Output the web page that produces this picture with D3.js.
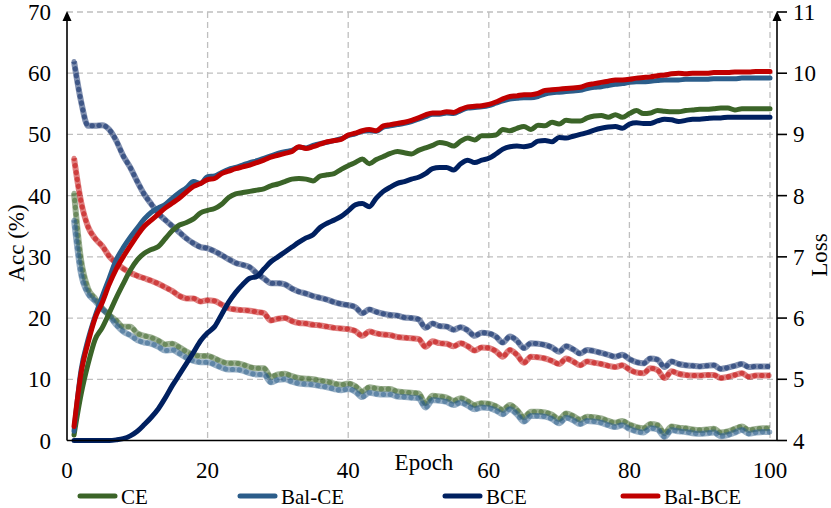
<!DOCTYPE html>
<html>
<head>
<meta charset="utf-8">
<script src="https://cdn.jsdelivr.net/npm/d3@7"></script>
<style>
    body { margin: 0; background: #fff; }
    svg text { font-family: "Times New Roman", Times, "Liberation Serif", Tinos, "Noto Serif", "DejaVu Serif", FreeSerif, serif; fill: #000; }
</style>
</head>
<body>
<script>
// Epochs and tick labels
const epochs = d3.range(1, 101);
const xTicks = [0, 20, 40, 60, 80, 100];
const accTicks = [0, 10, 20, 30, 40, 50, 60, 70];
const lossTicks = [4, 5, 6, 7, 8, 9, 10, 11];
const seriesNames = ["CE", "Bal-CE", "BCE", "Bal-BCE"];

// Accuracy (%), left axis
const accCE = [
    0.9, 7.5, 12.5, 16.5, 18.4, 20.8, 23.3, 25.6, 27.8, 29.5,
    30.6, 31.2, 31.7, 33.0, 34.3, 35.2, 35.6, 36.2, 37.2, 37.6,
    37.9, 38.6, 39.7, 40.3, 40.5, 40.7, 40.9, 41.1, 41.6, 41.9,
    42.3, 42.7, 42.8, 42.7, 42.4, 43.2, 43.4, 43.6, 44.3, 44.9,
    45.4, 46.0, 45.2, 45.9, 46.4, 46.9, 47.2, 47.0, 46.8, 47.4,
    47.8, 48.2, 48.7, 48.5, 48.1, 48.9, 49.4, 49.1, 49.8, 49.8,
    49.9, 50.8, 50.6, 51.0, 51.3, 50.8, 51.5, 51.4, 52.0, 51.7,
    52.3, 52.2, 52.2, 52.7, 53.0, 53.1, 52.8, 53.2, 52.8, 53.4,
    53.9, 53.4, 53.5, 53.9, 53.8, 53.7, 53.7, 53.9, 54.0, 54.1,
    54.1, 54.2, 54.3, 54.3, 54.0, 54.2, 54.2, 54.2, 54.2, 54.2
];
const accBalCE = [
    1.5, 11.5, 16.5, 20.3, 23.5, 26.5, 29.5, 31.5, 33.2, 34.7,
    36.2, 37.3, 38.0, 38.6, 39.6, 40.5, 41.3, 42.3, 42.0, 43.1,
    43.2, 43.8, 44.3, 44.6, 45.0, 45.4, 45.7, 46.1, 46.5, 46.9,
    47.2, 47.4, 47.9, 47.8, 48.2, 48.5, 48.7, 49.0, 49.3, 49.8,
    50.1, 50.5, 50.6, 50.5, 51.2, 51.4, 51.6, 51.8, 52.1, 52.5,
    52.9, 53.3, 53.3, 53.5, 53.4, 53.9, 54.3, 54.4, 54.5, 54.7,
    55.1, 55.5, 55.8, 55.9, 56.0, 56.0, 56.2, 56.6, 56.8, 56.9,
    57.0, 57.1, 57.2, 57.5, 57.7, 57.8, 58.0, 58.2, 58.3, 58.5,
    58.6, 58.6, 58.7, 58.8, 58.9, 58.9, 58.9, 59.0, 59.0, 59.0,
    59.0, 59.1, 59.1, 59.1, 59.1, 59.2, 59.2, 59.2, 59.2, 59.2
];
const accBCE = [
    0, 0, 0, 0, 0, 0, 0.1, 0.3, 0.75, 1.5,
    2.6, 3.8, 5.2, 7.0, 9.0, 10.8, 12.6, 14.4, 16.3, 17.6,
    18.6, 20.6, 22.6, 24.2, 25.5, 26.5, 26.8, 28.0, 29.2, 30.0,
    30.8, 31.6, 32.4, 33.1, 33.6, 34.8, 35.5, 36.0, 36.6, 37.5,
    38.5, 38.7, 38.2, 39.6, 40.7, 41.4, 42.0, 42.3, 42.7, 43.0,
    43.6, 44.4, 44.6, 44.6, 44.2, 45.2, 45.8, 45.4, 45.8, 46.1,
    46.8, 47.6, 48.0, 48.1, 48.0, 48.2, 48.9, 49.0, 48.8, 49.5,
    49.4, 49.7, 50.0, 50.3, 50.7, 51.0, 51.2, 51.3, 51.0, 51.7,
    51.9, 51.8, 51.8, 52.2, 52.5, 52.4, 52.1, 52.3, 52.5, 52.5,
    52.6, 52.7, 52.7, 52.8, 52.8, 52.8, 52.8, 52.8, 52.8, 52.8
];
const accBalBCE = [
    2.3, 11.0, 16.0, 20.0, 22.5, 25.5, 28.0, 30.0, 31.8, 33.5,
    35.0, 36.0, 37.0, 38.0, 38.8, 39.6, 40.6, 41.5, 42.0, 42.6,
    42.8, 43.6, 44.0, 44.4, 44.7, 45.0, 45.4, 45.8, 46.3, 46.6,
    46.9, 47.2, 48.0, 47.7, 48.0, 48.4, 48.8, 49.0, 49.2, 49.9,
    50.2, 50.6, 50.8, 50.6, 51.4, 51.6, 51.8, 52.0, 52.3, 52.7,
    53.2, 53.5, 53.5, 53.7, 53.6, 54.1, 54.5, 54.6, 54.7, 54.9,
    55.3, 55.8, 56.2, 56.3, 56.5, 56.5, 56.7, 57.2, 57.3, 57.4,
    57.5, 57.6, 57.7, 58.1, 58.3, 58.5, 58.7, 58.9, 58.9, 59.0,
    59.2, 59.3, 59.4, 59.6, 59.7, 59.9, 60.0, 59.9, 60.0, 60.0,
    60.0, 60.1, 60.1, 60.1, 60.2, 60.2, 60.2, 60.3, 60.3, 60.3
];

// Loss, right axis
const lossCE = [
    8.04, 6.95, 6.48, 6.32, 6.16, 6.05, 5.96, 5.86, 5.86, 5.75,
    5.71, 5.68, 5.63, 5.57, 5.58, 5.52, 5.45, 5.40, 5.38, 5.38,
    5.34, 5.29, 5.26, 5.26, 5.24, 5.20, 5.18, 5.18, 5.04, 5.08,
    5.09, 5.05, 5.02, 5.01, 5.00, 4.98, 4.96, 4.93, 4.91, 4.93,
    4.89, 4.80, 4.87, 4.85, 4.84, 4.84, 4.80, 4.79, 4.78, 4.77,
    4.61, 4.73, 4.72, 4.70, 4.65, 4.69, 4.64, 4.58, 4.61, 4.60,
    4.56, 4.50, 4.58, 4.50, 4.38, 4.47, 4.47, 4.46, 4.42, 4.35,
    4.44, 4.40, 4.34, 4.39, 4.38, 4.36, 4.32, 4.29, 4.32, 4.26,
    4.22, 4.20, 4.27, 4.25, 4.12, 4.23, 4.21, 4.20, 4.18, 4.17,
    4.18, 4.19, 4.13, 4.15, 4.19, 4.23, 4.17, 4.19, 4.20, 4.20
];
const lossBalCE = [
    7.60, 6.72, 6.40, 6.28, 6.15, 6.04, 5.89, 5.78, 5.72, 5.64,
    5.60, 5.58, 5.53, 5.47, 5.48, 5.42, 5.35, 5.30, 5.28, 5.28,
    5.24, 5.19, 5.16, 5.16, 5.14, 5.10, 5.08, 5.08, 4.95, 4.99,
    5.00, 4.96, 4.93, 4.92, 4.91, 4.89, 4.87, 4.84, 4.82, 4.84,
    4.80, 4.71, 4.78, 4.76, 4.75, 4.75, 4.72, 4.71, 4.70, 4.69,
    4.54, 4.66, 4.65, 4.63, 4.58, 4.62, 4.57, 4.51, 4.54, 4.53,
    4.49, 4.43, 4.51, 4.43, 4.31, 4.40, 4.40, 4.39, 4.35, 4.28,
    4.37, 4.33, 4.27, 4.32, 4.31, 4.29, 4.25, 4.22, 4.25, 4.19,
    4.15, 4.13, 4.20, 4.18, 4.06, 4.17, 4.15, 4.14, 4.12, 4.11,
    4.12, 4.13, 4.07, 4.09, 4.13, 4.17, 4.11, 4.13, 4.14, 4.14
];
const lossBCE = [
    10.19, 9.54, 9.14, 9.14, 9.15, 9.08, 8.90, 8.65, 8.46, 8.23,
    8.02, 7.86, 7.71, 7.60, 7.50, 7.40, 7.30, 7.22, 7.16, 7.14,
    7.09, 7.03, 6.96, 6.90, 6.87, 6.83, 6.73, 6.65, 6.57, 6.57,
    6.55, 6.48, 6.43, 6.40, 6.36, 6.33, 6.30, 6.26, 6.23, 6.21,
    6.18, 6.08, 6.14, 6.10, 6.07, 6.05, 6.04, 6.01, 6.00, 5.98,
    5.84, 5.91, 5.87, 5.86, 5.81, 5.85, 5.80, 5.71, 5.76, 5.75,
    5.70, 5.60, 5.70, 5.63, 5.51, 5.59, 5.58, 5.56, 5.52, 5.45,
    5.54, 5.49, 5.42, 5.48, 5.46, 5.43, 5.40, 5.37, 5.40, 5.33,
    5.28, 5.26, 5.34, 5.32, 5.20, 5.29, 5.25, 5.23, 5.22, 5.21,
    5.22, 5.23, 5.17, 5.19, 5.22, 5.25, 5.20, 5.21, 5.21, 5.21
];
const lossBalBCE = [
    8.61, 7.90, 7.49, 7.30, 7.18, 7.01, 6.90, 6.81, 6.74, 6.69,
    6.65, 6.61, 6.56, 6.50, 6.44, 6.36, 6.32, 6.32, 6.27, 6.29,
    6.28, 6.22, 6.16, 6.14, 6.13, 6.12, 6.10, 6.08, 5.96, 5.99,
    6.00, 5.95, 5.92, 5.91, 5.89, 5.88, 5.86, 5.84, 5.83, 5.82,
    5.79, 5.71, 5.78, 5.75, 5.73, 5.72, 5.69, 5.68, 5.67, 5.66,
    5.53, 5.62, 5.59, 5.58, 5.54, 5.59, 5.54, 5.47, 5.52, 5.51,
    5.46, 5.37, 5.48, 5.40, 5.27, 5.37, 5.36, 5.34, 5.30, 5.25,
    5.34, 5.29, 5.23, 5.29, 5.27, 5.25, 5.22, 5.20, 5.23, 5.16,
    5.11, 5.10, 5.18, 5.15, 5.02, 5.13, 5.09, 5.07, 5.06, 5.06,
    5.07, 5.07, 5.02, 5.04, 5.07, 5.10, 5.04, 5.06, 5.06, 5.06
];

const colors = ["#3b6428", "#2b5d8a", "#002060", "#c00000"];
const accData = [accCE, accBalCE, accBCE, accBalBCE];
const lossData = [lossCE, lossBalCE, lossBCE, lossBalBCE];

// Set the dimensions
const width = 831,
    height = 508,
    plotLeft = 67,
    plotRight = 777,
    plotTop = 12,
    plotBottom = 440.5,
    svg = d3
        .select("body")
        .append("svg")
        .attr("width", width)
        .attr("height", height),
    // Scales
    x = d3.scaleLinear().domain([0, 100]).range([plotLeft, 770]),
    y = d3.scaleLinear().domain([0, 70]).range([plotBottom, plotTop]),
    yRight = d3.scaleLinear().domain([4, 11]).range([plotBottom, plotTop]);

// Grid lines
const grid = svg.append("g")
    .attr("stroke", "#bfbfbf")
    .attr("stroke-width", 1.3)
    .attr("stroke-dasharray", "6,4");
grid.selectAll("line.h")
    .data(accTicks.filter(d => d > 0))
    .enter()
    .append("line")
    .attr("x1", plotLeft)
    .attr("x2", plotRight)
    .attr("y1", d => y(d))
    .attr("y2", d => y(d));
grid.selectAll("line.v")
    .data(xTicks.filter(d => d > 0))
    .enter()
    .append("line")
    .attr("x1", d => x(d))
    .attr("x2", d => x(d))
    .attr("y1", plotTop)
    .attr("y2", plotBottom);

// Line generators
const accLine = d3.line()
    .x((d, i) => x(epochs[i]))
    .y(d => y(d))
    .curve(d3.curveMonotoneX);
const lossLine = d3.line()
    .x((d, i) => x(epochs[i]))
    .y(d => yRight(d))
    .curve(d3.curveMonotoneX);

// Loss curves: faded thick line plus round dots on top
lossData.forEach((series, k) => {
    svg.append("path")
        .datum(series)
        .attr("fill", "none")
        .attr("stroke", colors[k])
        .attr("stroke-opacity", 0.5)
        .attr("stroke-width", 6)
        .attr("stroke-linejoin", "round")
        .attr("d", lossLine);
    svg.append("path")
        .datum(series)
        .attr("fill", "none")
        .attr("stroke", colors[k])
        .attr("stroke-opacity", 0.5)
        .attr("stroke-width", 5)
        .attr("stroke-linecap", "round")
        .attr("stroke-dasharray", "0.5,6.5")
        .attr("d", lossLine);
});

// Accuracy curves
accData.forEach((series, k) => {
    svg.append("path")
        .datum(series)
        .attr("fill", "none")
        .attr("stroke", colors[k])
        .attr("stroke-width", 5)
        .attr("stroke-linejoin", "round")
        .attr("stroke-linecap", "round")
        .attr("d", accLine);
});

// Axes lines with arrow heads
const axes = svg.append("g").attr("stroke", "#000").attr("stroke-width", 1.6);
axes.append("line")
    .attr("x1", plotLeft).attr("x2", plotRight)
    .attr("y1", plotBottom).attr("y2", plotBottom);
[plotLeft, plotRight].forEach(ax => {
    axes.append("line")
        .attr("x1", ax).attr("x2", ax)
        .attr("y1", plotBottom).attr("y2", plotTop + 6);
    svg.append("path")
        .attr("d", `M${ax},${plotTop - 1} L${ax - 4.5},${plotTop + 9} L${ax + 4.5},${plotTop + 9} Z`)
        .attr("fill", "#000");
});

// Right axis ticks
axes.selectAll("line.rt")
    .data(lossTicks)
    .enter()
    .append("line")
    .attr("x1", plotRight)
    .attr("x2", plotRight + 10)
    .attr("y1", d => yRight(d))
    .attr("y2", d => yRight(d));

// Tick labels
svg.append("g")
    .selectAll("text")
    .data(accTicks)
    .enter()
    .append("text")
    .attr("x", 51)
    .attr("y", d => y(d) + 8)
    .attr("text-anchor", "end")
    .attr("font-size", 23)
    .text(d => d);
svg.append("g")
    .selectAll("text")
    .data(lossTicks)
    .enter()
    .append("text")
    .attr("x", 793)
    .attr("y", d => yRight(d) + 8)
    .attr("font-size", 23)
    .text(d => d);
svg.append("g")
    .selectAll("text")
    .data(xTicks)
    .enter()
    .append("text")
    .attr("x", d => x(d))
    .attr("y", 478)
    .attr("text-anchor", "middle")
    .attr("font-size", 23)
    .text(d => d);

// Axis titles
svg.append("text")
    .attr("x", 424)
    .attr("y", 470)
    .attr("text-anchor", "middle")
    .attr("font-size", 23)
    .text("Epoch");
svg.append("text")
    .attr("transform", "translate(24,243) rotate(-90)")
    .attr("text-anchor", "middle")
    .attr("font-size", 23)
    .text("Acc (%)");
svg.append("text")
    .attr("transform", "translate(827,255) rotate(-90)")
    .attr("text-anchor", "middle")
    .attr("font-size", 23)
    .text("Loss");

// Legend
const legendX = [80, 240, 445, 623];
const legend = svg.selectAll("g.legend")
    .data(seriesNames)
    .enter()
    .append("g")
    .attr("transform", (d, i) => `translate(${legendX[i]},496)`);
legend.append("line")
    .attr("x1", 0)
    .attr("x2", 35)
    .attr("stroke", (d, i) => colors[i])
    .attr("stroke-width", 5)
    .attr("stroke-linecap", "round");
legend.append("text")
    .attr("x", 41)
    .attr("y", 7.5)
    .attr("font-size", 21)
    .text(d => d);
</script>
</body>
</html>
